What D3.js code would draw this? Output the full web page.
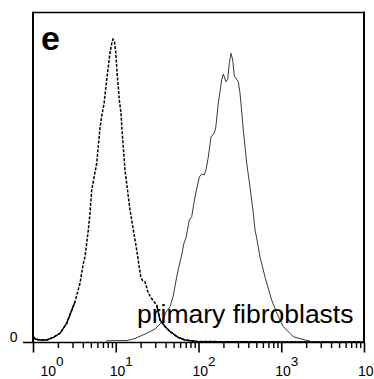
<!DOCTYPE html>
<html>
<head>
<meta charset="utf-8">
<script src="https://cdn.jsdelivr.net/npm/d3@7"></script>
<style>
  body { margin: 0; background: #fff; }
  svg { display: block; font-family: "Liberation Sans", Arial, sans-serif; }
</style>
</head>
<body>
<svg id="chart" width="374" height="379"></svg>
<script>
// control histogram (dashed), fluorescence intensity vs. counts
const controlIntensity = [1.01, 1.06, 1.215, 1.464, 1.759, 2.12, 2.555, 3.218, 3.698, 4.055, 4.25, 4.66, 4.885,
  5.12, 5.886, 6.452, 6.765, 7.211, 7.775, 8.52, 9.01, 9.265, 9.66, 9.99, 10.44, 10.74, 11.04, 11.57, 11.9,
  12.94, 14.87, 17.91, 20.03, 21.06, 22.57, 24.74, 28.44, 31.25, 34.25, 39.38, 45.25, 56.54, 68.7, 95.9,
  240, 966, 10000];
const controlCounts = [5.8, 3.5, 2.5, 2.5, 5.2, 9.2, 19.2, 40.8, 59.2, 79.2, 85.8, 112.5, 129.2,
  152.5, 179.2, 214.5, 226.5, 238.5, 262.5, 289.5, 300.5, 303.2, 300.5, 290.5, 266.5, 255.8, 242.5, 229.5, 212.5,
  172.5, 132.5, 92.5, 65.8, 62, 60.8, 49.2, 41.5, 37.5, 22.5, 16, 11, 5.2, 2.5, 1,
  0.8, 0.6, 0.6];

// primary fibroblasts histogram (solid)
const sampleIntensity = [7.625, 8.52, 11.26, 13.68, 17.09, 23.66, 29.8, 34.25, 37.24, 40.5, 45.25, 49.2,
  54.5, 59.76, 62.66, 66.8, 70.6, 74.67, 77.4, 82.76, 90.7, 102.3, 109.3, 117.5, 123.2, 131.4, 141.6,
  148.5, 155.2, 161.4, 173.5, 190.7, 199.4, 214.9, 225.4, 235.6, 247.1, 259.1, 270.8, 289.5, 302.7,
  317.3, 335.5, 347.8, 382.4, 419.3, 459.4, 481.7, 505, 553.6, 606.9, 636.2, 766.7, 881, 1058.8,
  1398.5, 1936.4, 2225.8];
const sampleCounts = [1.5, 1.8, 2, 2, 4, 9.2, 13.5, 18.5, 22.5, 30.5, 35.8, 45.5,
  65.5, 80.5, 87.5, 99.5, 104.5, 115.5, 122.5, 125.8, 145.5, 165.5, 168.5, 167.5, 172.5, 185.5, 205.5,
  207.5, 209.5, 214.5, 239.5, 262.5, 268.5, 260.8, 263.2, 279.2, 289.2, 282.5, 266.5, 263.2, 260.8,
  249.5, 227.5, 212.5, 179.5, 155.5, 129.5, 112.5, 104.5, 85.5, 72.5, 65.5, 42.5, 29.5, 15.8,
  5.8, 2.5, 1.5];

const tickExponents = ['0', '1', '2', '3', '4'];
const zeroLabel = '0';
const panelLetter = 'e';
const sampleLabel = 'primary fibroblasts';

const svg = d3.select('#chart');
const plotLeft = 33, plotRight = 364, plotTop = 12.5, plotBottom = 342.5;

const x = d3.scaleLog().domain([1, 1e4]).range([plotLeft, plotRight]);
const y = d3.scaleLinear().domain([0, 330]).range([plotBottom, plotTop]);

const control = controlIntensity.map((v, i) => [v, controlCounts[i]]);
const sample = sampleIntensity.map((v, i) => [v, sampleCounts[i]]);

const line = d3.line().x(d => x(d[0])).y(d => y(d[1]));

// sample curve
svg.append('path')
  .datum(sample)
  .attr('fill', 'none')
  .attr('stroke', '#3a3a3a')
  .attr('stroke-width', 1)
  .attr('d', line);

// control curve: dashed, tails near the baseline drawn solid
svg.append('path')
  .datum(control)
  .attr('fill', 'none')
  .attr('stroke', '#000')
  .attr('stroke-width', 1.5)
  .attr('stroke-dasharray', '3,1.5')
  .attr('d', line);

svg.append('path')
  .datum(control)
  .attr('fill', 'none')
  .attr('stroke', '#000')
  .attr('stroke-width', 1.4)
  .attr('d', line.defined(d => d[1] <= 41));

// frame
const frame = svg.append('g').attr('stroke', '#000').attr('fill', 'none');
frame.append('line').attr('x1', plotLeft).attr('x2', plotRight + 1).attr('y1', plotTop).attr('y2', plotTop).attr('stroke-width', 1.5);
frame.append('line').attr('x1', plotLeft).attr('x2', plotLeft).attr('y1', plotTop - 0.75).attr('y2', plotBottom).attr('stroke-width', 2);
frame.append('line').attr('x1', plotRight).attr('x2', plotRight).attr('y1', plotTop - 0.75).attr('y2', plotBottom).attr('stroke-width', 2);

// x axis
const allTicks = x.ticks();
const majors = allTicks.filter(v => Number.isInteger(Math.log10(v)));
const minors = allTicks.filter(v => !Number.isInteger(Math.log10(v)));

const axisG = svg.append('g').attr('transform', `translate(0,${plotBottom})`);
axisG.append('g')
  .call(d3.axisBottom(x).tickValues(minors).tickSize(5.5).tickFormat(''))
  .call(g => g.select('.domain').remove())
  .call(g => g.selectAll('line').attr('stroke-width', 1.4));
axisG.append('g')
  .call(d3.axisBottom(x).tickValues(majors).tickSize(10).tickFormat(''))
  .call(g => g.select('.domain').remove())
  .call(g => g.selectAll('line').attr('stroke-width', 1.6));
axisG.append('line')
  .attr('x1', plotLeft - 10).attr('x2', plotRight + 1)
  .attr('stroke', '#000').attr('stroke-width', 1.6);

// tick labels 10^n
const labels = svg.append('g').attr('font-size', 14).attr('fill', '#000');
majors.forEach((v, i) => {
  const t = labels.append('text')
    .attr('x', x(v) + (i === 0 ? 7.5 : -6))
    .attr('y', 376);
  t.append('tspan').text('10');
  t.append('tspan').attr('dy', -10).attr('font-size', 13.5).text(tickExponents[i]);
});

svg.append('text')
  .attr('x', 17.5).attr('y', 342)
  .attr('text-anchor', 'end')
  .attr('font-size', 14)
  .text(zeroLabel);

svg.append('text')
  .attr('x', 41).attr('y', 50)
  .attr('font-size', 34)
  .attr('font-weight', 'bold')
  .text(panelLetter);

svg.append('text')
  .attr('x', 137).attr('y', 322.5)
  .attr('font-size', 26.5)
  .text(sampleLabel);
</script>
</body>
</html>
